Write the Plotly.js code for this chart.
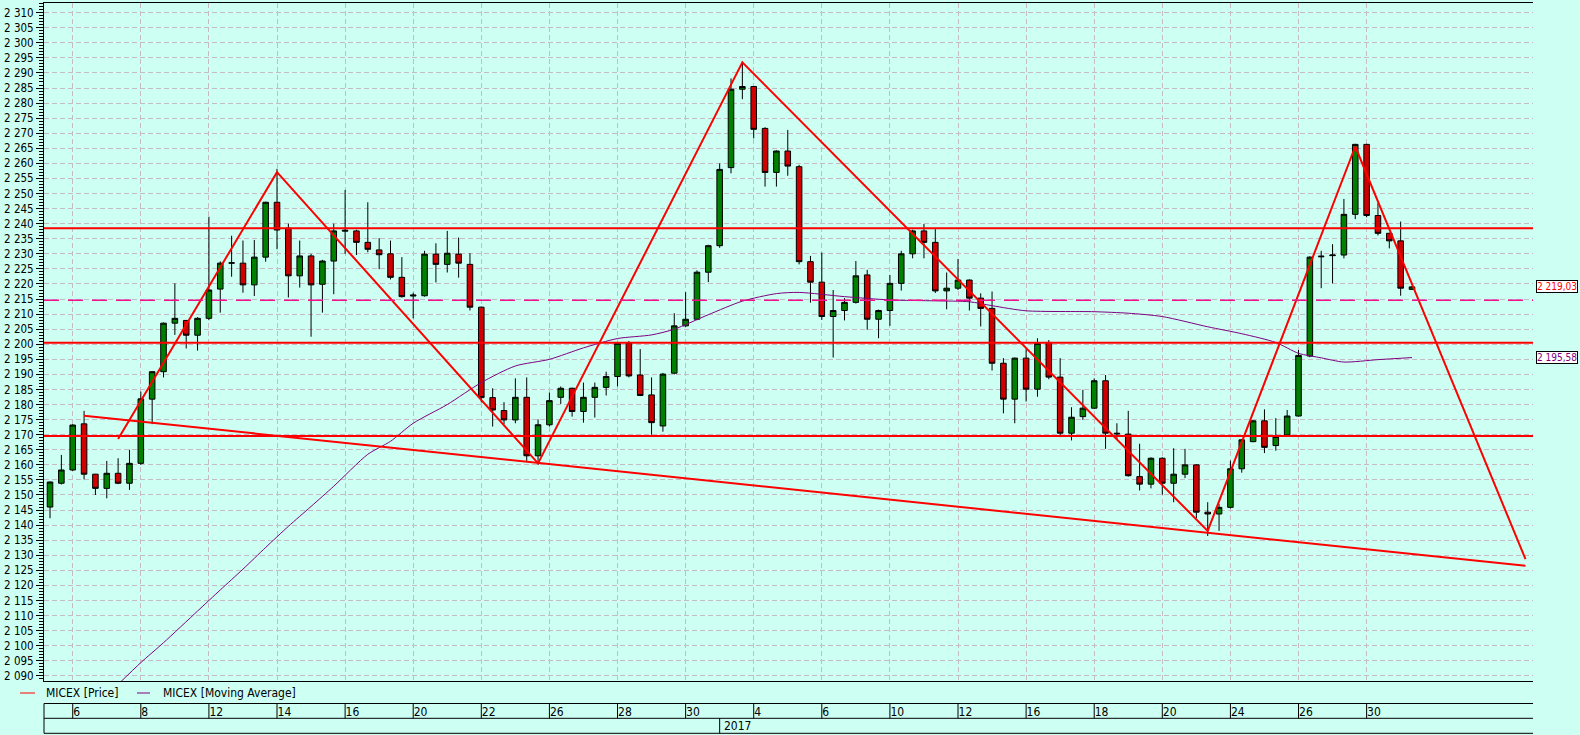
<!DOCTYPE html>
<html><head><meta charset="utf-8">
<script src="https://cdn.plot.ly/plotly-3.0.1.min.js"></script>
<style>html,body{margin:0;padding:0;background:#CDFFF2;}#chart{width:1580px;height:735px;}</style>
</head><body><div id="chart"></div>
<script>
// ---- data ----
const openP = [2146.0,2153.9,2158.3,2173.6,2156.9,2152.2,2157.2,2153.9,2160.5,2181.8,
2190.9,2207.0,2207.9,2203.0,2208.6,2218.3,2226.9,2226.9,2219.7,2228.9,
2247.1,2238.5,2222.7,2229.3,2219.9,2227.6,2237.5,2237.6,2233.8,2231.3,
2230.0,2222.2,2216.0,2216.1,2229.9,2226.5,2229.9,2226.5,2212.3,2182.3,
2178.0,2174.9,2182.4,2163.0,2173.3,2182.4,2185.4,2177.7,2182.4,2185.7,
2189.3,2200.3,2189.8,2183.2,2172.9,2190.4,2206.1,2208.3,2223.9,2232.7,
2258.6,2284.6,2285.5,2271.6,2257.0,2264.1,2258.9,2227.4,2220.6,2209.2,
2211.2,2213.9,2223.0,2208.3,2211.2,2220.2,2230.0,2237.6,2233.8,2217.7,
2218.6,2221.3,2215.3,2211.9,2193.7,2181.8,2195.4,2185.1,2200.6,2189.1,
2170.5,2176.0,2178.8,2187.9,2170.5,2170.2,2156.1,2153.6,2162.2,2153.9,
2156.9,2160.0,2144.3,2143.7,2145.9,2158.7,2167.7,2174.6,2166.4,2169.9,
2176.2,2196.1,2229.0,2229.4,2229.6,2243.1,2266.3,2242.7,2236.8,2234.3,
2218.2];
const highP = [2154.5,2163.3,2173.5,2177.9,2157.0,2161.3,2162.2,2165.0,2184.3,2191.0,
2207.2,2220.2,2208.0,2209.0,2242.3,2227.5,2236.0,2234.4,2234.6,2247.3,
2258.2,2240.0,2234.4,2230.0,2228.0,2240.0,2251.2,2238.0,2247.1,2235.2,
2234.4,2228.9,2217.1,2231.0,2233.5,2237.6,2235.4,2230.2,2212.5,2185.4,
2180.8,2188.7,2189.0,2175.1,2184.0,2186.0,2185.6,2187.3,2187.3,2190.9,
2200.5,2201.1,2198.4,2189.0,2190.5,2210.3,2217.3,2224.5,2233.0,2260.0,
2288.2,2293.8,2285.7,2272.0,2264.3,2271.1,2259.5,2229.3,2230.4,2218.0,
2215.3,2227.6,2224.7,2211.5,2223.0,2231.0,2238.0,2239.9,2238.2,2223.8,
2228.3,2221.5,2216.9,2217.5,2195.4,2195.6,2198.4,2202.0,2201.4,2195.4,
2179.1,2184.9,2188.7,2189.8,2173.8,2177.9,2167.0,2162.5,2162.5,2165.5,
2165.3,2160.2,2147.6,2147.0,2161.4,2168.6,2174.8,2178.4,2175.5,2178.2,
2198.1,2229.2,2231.0,2233.2,2248.2,2266.5,2266.5,2246.8,2237.0,2240.7,
2219.3];
const lowP = [2142.3,2153.5,2158.0,2155.2,2150.0,2148.9,2153.6,2151.7,2160.0,2173.5,
2189.0,2203.1,2198.6,2197.9,2208.0,2210.5,2222.4,2217.1,2216.0,2227.4,
2231.5,2215.5,2218.8,2202.5,2210.5,2216.6,2230.0,2229.6,2230.5,2224.9,
2221.5,2215.5,2208.6,2215.8,2220.5,2223.8,2222.1,2211.2,2180.7,2172.7,
2173.5,2173.8,2161.3,2160.0,2172.7,2180.2,2176.0,2174.0,2175.7,2183.0,
2186.0,2189.0,2182.8,2170.0,2171.0,2190.0,2205.8,2208.0,2220.6,2232.0,
2256.7,2281.3,2268.3,2252.3,2252.3,2255.9,2226.5,2213.8,2208.1,2195.6,
2207.9,2213.5,2204.8,2202.0,2206.1,2217.8,2228.5,2228.5,2217.0,2211.6,
2218.0,2211.2,2205.9,2191.3,2177.1,2173.8,2181.0,2182.6,2188.4,2169.2,
2168.1,2174.9,2178.5,2165.3,2168.5,2156.1,2151.5,2152.2,2150.1,2147.6,
2155.6,2142.3,2136.4,2138.1,2145.5,2157.4,2167.5,2163.9,2164.7,2169.5,
2176.0,2195.7,2218.6,2220.2,2228.5,2241.5,2242.1,2236.1,2231.8,2216.1,
2218.0];
const closeP = [2154.3,2158.3,2173.2,2156.9,2152.2,2157.2,2153.9,2160.5,2181.9,2190.9,
2207.0,2208.6,2203.0,2208.6,2218.0,2226.9,2227.0,2219.7,2228.9,2247.1,
2237.9,2222.7,2229.3,2219.7,2227.6,2237.6,2237.8,2233.8,2231.5,2229.7,
2222.2,2215.8,2216.3,2229.9,2226.5,2230.2,2226.9,2212.3,2182.3,2178.2,
2174.9,2182.4,2163.0,2173.3,2181.3,2185.4,2177.7,2182.4,2185.7,2189.3,
2200.3,2189.5,2183.0,2174.0,2190.1,2206.1,2208.3,2223.9,2232.7,2258.0,
2284.6,2285.5,2271.3,2257.0,2264.1,2259.1,2227.4,2220.6,2209.2,2211.2,
2213.9,2222.7,2208.3,2211.2,2220.2,2230.0,2237.6,2233.8,2217.7,2218.6,
2221.3,2215.3,2211.9,2193.7,2181.8,2195.4,2185.1,2200.3,2189.1,2170.5,
2175.8,2178.8,2187.9,2170.5,2170.3,2156.4,2153.6,2162.2,2153.9,2156.9,
2160.0,2144.3,2143.7,2145.9,2158.7,2168.3,2174.6,2165.8,2169.4,2176.2,
2196.3,2228.9,2229.2,2229.6,2243.1,2266.3,2242.7,2236.8,2234.3,2218.6,
2219.03];

// moving average (read at selected bars)
const maIdx = [6,8,10,13,15,17,19,21,23,25,28,30,32,35,38,41,44,47,50,53,55,58,61,64,66,70,74,78,81,83,86,92,95,98,102,105,108,110,112,114,117,120];
const maVal = [2087.2,2094.4,2101.0,2111.5,2118.5,2125.4,2132.6,2139.6,2146.2,2152.9,2163.5,2167.8,2173.8,2180.0,2187.3,2192.8,2195.0,2198.8,2201.9,2203.1,2205.0,2209.8,2214.3,2216.8,2217.2,2215.8,2214.7,2214.4,2214.1,2212.8,2211.1,2210.8,2210.3,2209.2,2205.8,2203.5,2200.6,2197.0,2195.5,2194.1,2194.9,2195.58];

// zigzag and trend line
const zigIdx = [6,20,43,61,102,115,130];
const zigVal = [2168.6,2257.1,2160.5,2293.5,2138.1,2265.6,2128.7];
const trendIdx = [3,130];
const trendVal = [2176.3,2126.5];

// horizontal levels
const levelVals = [2238.5,2200.5,2169.6];
const dashedLevel = 2214.6;

// date table
const dayIdx = [2,8,14,20,26,32,38,44,50,56,62,68,74,80,86,92,98,104,110,116];
const dayText = ['6','8','12','14','16','20','22','26','28','30','4','6','10','12','16','18','20','24','26','30'];
const yearIdx = 59;
const yearText = '2017';
const seriesNames = ['MICEX [Price]','MICEX [Moving Average]'];

// ---- drawing ----
const barIdx = closeP.map((_, i) => i);
const FONT = '"Liberation Sans Narrow", "DejaVu Sans Condensed", "Liberation Sans", Arial, sans-serif';
const FS = 11;
const BG = '#CDFFF2';
const RED = '#FF0000', PURPLE = '#800080';
const GRID = '#C4BCC4';

function fmt(v){const s=v.toFixed(2).split('.');return s[0].replace(/\B(?=(\d{3})+(?!\d))/g,' ')+','+s[1];}

const traces = [
  {type:'candlestick', x:barIdx, open:openP, high:highP, low:lowP, close:closeP,
   increasing:{line:{color:'#000000',width:1}, fillcolor:'#008000'},
   decreasing:{line:{color:'#000000',width:1}, fillcolor:'#D00000'},
   whiskerwidth:0, hoverinfo:'skip', showlegend:false, name:'MICEX'},
  {type:'scatter', mode:'lines', x:maIdx, y:maVal, line:{color:PURPLE,width:1,shape:'spline',smoothing:0.7}, name:seriesNames[1], showlegend:false, hoverinfo:'skip'},
  {type:'scatter', mode:'lines', x:trendIdx, y:trendVal, line:{color:RED,width:2}, showlegend:false, hoverinfo:'skip'},
  {type:'scatter', mode:'lines', x:zigIdx, y:zigVal, line:{color:RED,width:2}, name:seriesNames[0], showlegend:false, hoverinfo:'skip'}
];

const H = 678; // plot height px
const py = Y => (681 - Y) / H; // pixel -> paper y
const W = 1489;
const px = X => (X - 44) / W;

const shapes = [];
levelVals.forEach(v => shapes.push({type:'line', xref:'paper', yref:'y', x0:0, x1:1, y0:v, y1:v, line:{color:RED,width:2}}));
shapes.push({type:'line', xref:'paper', yref:'y', x0:0, x1:1, y0:dashedLevel, y1:dashedLevel, line:{color:'#F0108C',width:1.5,dash:'15px,9px'}});
// date table
[703.5, 718.3, 733.3].forEach(Y => shapes.push({type:'line', xref:'paper', yref:'paper', x0:0, x1:1, y0:py(Y), y1:py(Y), line:{color:'#000',width:1}}));
shapes.push({type:'line', xref:'paper', yref:'paper', x0:0, x1:0, y0:py(703.5), y1:py(733.3), line:{color:'#000',width:1}});
dayIdx.forEach(i => shapes.push({type:'line', xref:'x', yref:'paper', x0:i, x1:i, y0:py(703.5), y1:py(718.3), line:{color:'#000',width:1}}));
shapes.push({type:'line', xref:'x', yref:'paper', x0:yearIdx, x1:yearIdx, y0:py(718.3), y1:py(733.3), line:{color:'#000',width:1}});
// legend samples
shapes.push({type:'line', xref:'paper', yref:'paper', x0:px(20), x1:px(35), y0:py(693), y1:py(693), line:{color:RED,width:1}});
shapes.push({type:'line', xref:'paper', yref:'paper', x0:px(137), x1:px(150), y0:py(693), y1:py(693), line:{color:PURPLE,width:1}});

const annotations = [];
annotations.push({xref:'paper', yref:'paper', x:px(44), y:py(693), xanchor:'left', yanchor:'middle', text:seriesNames[0], showarrow:false, font:{family:FONT,size:FS+1,color:'#000'}});
annotations.push({xref:'paper', yref:'paper', x:px(161), y:py(693), xanchor:'left', yanchor:'middle', text:seriesNames[1], showarrow:false, font:{family:FONT,size:FS+1,color:'#000'}});
annotations.push({xref:'x', yref:'paper', x:yearIdx, xshift:2, y:py(725.8), xanchor:'left', yanchor:'middle', text:yearText, showarrow:false, font:{family:FONT,size:FS+1,color:'#000'}});
annotations.push({xref:'paper', yref:'y', x:1, xshift:3, y:closeP[closeP.length-1], xanchor:'left', yanchor:'middle', text:fmt(closeP[closeP.length-1]), showarrow:false, bgcolor:'#FFFFFF', bordercolor:'#000', borderwidth:1, borderpad:0, font:{family:FONT,size:10,color:RED}});
annotations.push({xref:'paper', yref:'y', x:1, xshift:3, y:maVal[maVal.length-1], xanchor:'left', yanchor:'middle', text:fmt(maVal[maVal.length-1]), showarrow:false, bgcolor:'#FFFFFF', bordercolor:'#000', borderwidth:1, borderpad:0, font:{family:FONT,size:10,color:PURPLE}});

const yRange = [2088.3, 2313.2];
const yCommon = {range:yRange, tickmode:'linear', tick0:2090, dtick:5, tickformat:',d',
  ticks:'outside', ticklen:7, tickcolor:'#000', tickwidth:1,
  minor:{dtick:1, ticks:'outside', ticklen:4, tickcolor:'#000', showgrid:false},
  showline:true, linecolor:'#000', linewidth:1, zeroline:false,
  tickfont:{family:FONT,size:FS+0.5,color:'#000'}, fixedrange:true};

const layout = {
  width:1580, height:735,
  margin:{l:44, r:47, t:3, b:54, pad:0},
  paper_bgcolor:BG, plot_bgcolor:BG,
  separators:', ',
  showlegend:false,
  xaxis:{type:'linear', range:[-0.53,130.66], rangeslider:{visible:false},
    tickmode:'array', tickvals:dayIdx, ticktext:dayText, ticks:'',
    ticklabelposition:'outside right', ticklabelstandoff:20,
    tickfont:{family:FONT,size:FS+1,color:'#000'},
    showgrid:true, gridcolor:GRID, griddash:'5px,3px', gridwidth:1,
    showline:true, mirror:true, linecolor:'#000', linewidth:1, zeroline:false, fixedrange:true},
  yaxis:Object.assign({}, yCommon, {side:'left', showgrid:true, gridcolor:GRID, griddash:'5px,3px', gridwidth:1}),
  yaxis2:Object.assign({}, yCommon, {side:'right', overlaying:'y', matches:'y', showgrid:false}),
  shapes:shapes,
  annotations:annotations
};

Plotly.newPlot('chart', traces, layout, {displayModeBar:false, staticPlot:true});
</script>
</body></html>
